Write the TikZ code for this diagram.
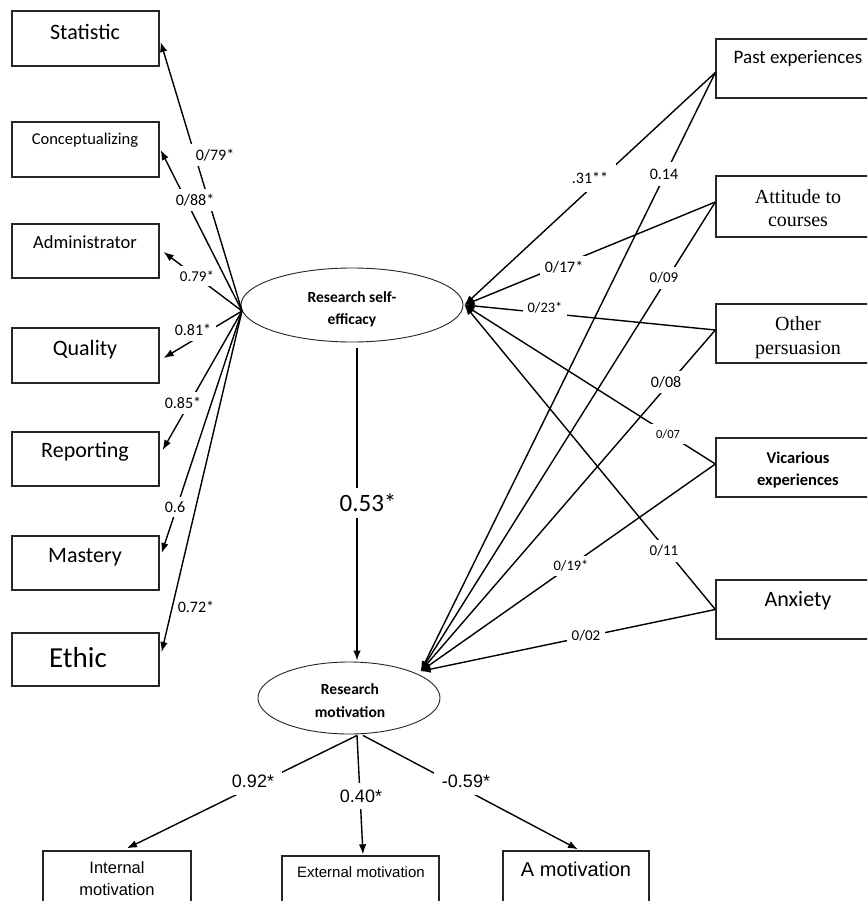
\documentclass[tikz,border=0pt]{standalone}
\usepackage{fontspec}
\setmainfont{Carlito}
\newfontfamily\tnr{Liberation Serif}
\newfontfamily\arl{Liberation Sans}
\usetikzlibrary{arrows.meta,shapes.geometric,calc}
\newcommand\fsz[1]{\fontsize{#1}{#1}\selectfont}
\begin{document}
\begin{tikzpicture}[x=1pt,y=-1pt,
  box/.style={draw=black!85,line width=1.3pt,minimum width=147pt,minimum height=55pt,inner sep=0pt},
  rbox/.style={draw=black!85,line width=1.3pt,minimum width=153pt,minimum height=59pt,inner sep=0pt},
  lat/.style={draw=black!85,ellipse,line width=0.9pt,inner sep=0pt},
  con/.style={line width=1.4pt,-{Latex[length=10pt,width=7.5pt]}},
  lab/.style={fill=white,inner sep=5pt,font=\fsz{16}},
  txt/.style={inner sep=0pt,align=center}]
\clip (0,0) rectangle (867,901);
\fill[white] (0,0) rectangle (867,901);
% left boxes
\node[box] (stat) at (85.5,38.5) {};
\node[box] (conc) at (85.5,149.5) {};
\node[box,minimum height=54pt] (admin) at (85.5,251) {};
\node[box] (qual) at (85.5,355.5) {};
\node[box,minimum height=54pt] (rep) at (85.5,459) {};
\node[box,minimum height=54pt] (mast) at (85.5,563) {};
\node[box,minimum height=53pt] (eth) at (85.5,659.5) {};
\node[txt,font=\fsz{22}] (tstat) at (85,32) {Statistic};
\node[txt,font=\fsz{16.5}] (tconc) at (85,140) {Conceptualizing};
\node[txt,font=\fsz{18.5}] (tadmin) at (85,242) {Administrator};
\node[txt,font=\fsz{22}] (tqual) at (85,350) {Quality};
\node[txt,font=\fsz{22}] (trep) at (85,452) {Reporting};
\node[txt,font=\fsz{22}] (tmast) at (85,557) {Mastery};
\node[txt,font=\fsz{29}] (teth) at (78,658) {Ethic};
% right boxes
\node[rbox] (past) at (792.5,68.5) {};
\node[rbox,minimum height=61pt] (att) at (792.5,206.5) {};
\node[rbox] (oth) at (792.5,333.5) {};
\node[rbox] (vic) at (792.5,467.5) {};
\node[rbox] (anx) at (792.5,609.5) {};
\node[txt,font=\fsz{19}] (tpast) at (798,58) {Past experiences};
\node[txt,font=\tnr\fsz{20}] (tatt1) at (798,197) {Attitude to};
\node[txt,font=\tnr\fsz{20}] (tatt2) at (798,222) {courses};
\node[txt,font=\tnr\fsz{20}] (toth1) at (798,324) {Other};
\node[txt,font=\tnr\fsz{20}] (toth2) at (798,350) {persuasion};
\node[txt,font=\bfseries\fsz{16.5}] (tvic1) at (798,458) {Vicarious};
\node[txt,font=\bfseries\fsz{16.5}] (tvic2) at (798,481) {experiences};
\node[txt,font=\fsz{22}] (tanx) at (798,601) {Anxiety};
% bottom boxes
\node[box,minimum width=148pt,minimum height=69pt] (intl) at (117,885.5) {};
\node[box,minimum width=157pt,minimum height=64pt] (ext) at (360.5,888) {};
\node[box,minimum width=146pt,minimum height=69pt] (amot) at (576,885.5) {};
\node[txt,font=\arl\fsz{16.5}] (tintl1) at (117,868) {Internal};
\node[txt,font=\arl\fsz{16.5}] (tintl2) at (117,890) {motivation};
\node[txt,font=\arl\fsz{15}] (text) at (361,872) {External motivation};
\node[txt,font=\arl\fsz{20}] (tamot) at (576,869) {A motivation};
% latent variables
\node[lat,minimum width=222pt,minimum height=74pt] (se) at (352,305) {};
\node[lat,minimum width=182pt,minimum height=72pt] (mo) at (349,698) {};
\node[txt,font=\bfseries\fsz{15.5}] (tse1) at (352,297) {Research self-};
\node[txt,font=\bfseries\fsz{15.5}] (tse2) at (352,320) {efficacy};
\node[txt,font=\bfseries\fsz{15.5}] (tmo1) at (350,689) {Research};
\node[txt,font=\bfseries\fsz{15.5}] (tmo2) at (350,712) {motivation};
\coordinate (seL) at (242,311);
% left connectors
\draw[con] (seL) -- ($(stat.east)+(1,3.5)$);
\draw[con] (seL) -- ($(conc.east)+(1,0.5)$);
\draw[con] (seL) -- ($(admin.east)+(4,1)$);
\draw[con] (seL) -- ($(qual.east)+(4,2.5)$);
\draw[con] (seL) -- ($(rep.east)+(3,-9)$);
\draw[con] (seL) -- ($(mast.east)+(2,-10)$);
\draw[con] (seL) -- ($(eth.east)+(2,-7.5)$);
% right connectors
\draw[con] ($(past.west)+(0,4)$) -- ($(se.east)+(1,0)$);
\draw[con] ($(att.west)+(0,-4.5)$) -- ($(se.east)+(1,0)$);
\draw[con] ($(oth.west)+(0,-3.5)$) -- ($(se.east)+(1,0)$);
\draw[con] ($(vic.west)+(0,-3.5)$) -- ($(se.east)+(1,0)$);
\draw[con] (anx.west) -- ($(se.east)+(1,0)$);
\draw[con] ($(past.west)+(0,4)$) -- ($(mo.north east)+(7,-1)$);
\draw[con] ($(att.west)+(0,-4.5)$) -- ($(mo.north east)+(7,-1)$);
\draw[con] ($(oth.west)+(0,-3.5)$) -- ($(mo.north east)+(7,-1)$);
\draw[con] ($(vic.west)+(0,-3.5)$) -- ($(mo.north east)+(7,-1)$);
\draw[con] (anx.west) -- ($(mo.north east)+(7,-1)$);
% structural path
\draw[con] ($(se.south)+(5,6)$) -- ($(mo.north)+(8,-1)$);
% bottom connectors
\draw[con] ($(mo.south)+(8,1)$) -- ($(intl.north)+(10,-2)$);
\draw[con] ($(mo.south)+(8,1)$) -- ($(ext.north)+(2.5,-1)$);
\draw[con] ($(mo.south)+(14,1)$) -- ($(amot.north)+(2,-1)$);
% labels
\node[lab] (l1) at (215,155) {0/79*};
\node[lab] (l2) at (195,200) {0/88*};
\node[lab,font=\fsz{15}] (l3) at (197,276) {0.79*};
\node[lab] (l4) at (193,330) {0.81*};
\node[lab] (l5) at (183,403) {0.85*};
\node[lab] (l6) at (175,507) {0.6};
\node[lab,inner sep=1.5pt] (l7) at (196,607) {0.72*};
\node[lab,inner sep=8pt] (r1) at (590,178) {.31**};
\node[lab,inner sep=7pt] (r2) at (664,174) {0.14};
\node[lab] (r3) at (564,267) {0/17*};
\node[lab,font=\fsz{15}] (r4) at (664,278) {0/09};
\node[lab,font=\fsz{14.5}] (r5) at (545,308) {0/23*};
\node[lab] (r6) at (666,382) {0/08};
\node[lab,font=\fsz{12.5}] (r7) at (668,434) {0/07};
\node[lab,font=\fsz{14.5}] (r8) at (571,566) {0/19*};
\node[lab,font=\fsz{15}] (r9) at (664,551) {0/11};
\node[lab,font=\fsz{15}] (r10) at (586,636) {0/02};
\node[lab,font=\fsz{25},inner sep=6pt] (c1) at (368,503) {0.53*};
\node[lab,font=\arl\fsz{18},inner sep=8pt] (b1) at (253,781) {0.92*};
\node[lab,font=\arl\fsz{18},inner sep=7pt] (b2) at (361,796) {0.40*};
\node[lab,font=\arl\fsz{18},inner sep=8pt] (b3) at (466,781) {-0.59*};
\end{tikzpicture}
\end{document}
